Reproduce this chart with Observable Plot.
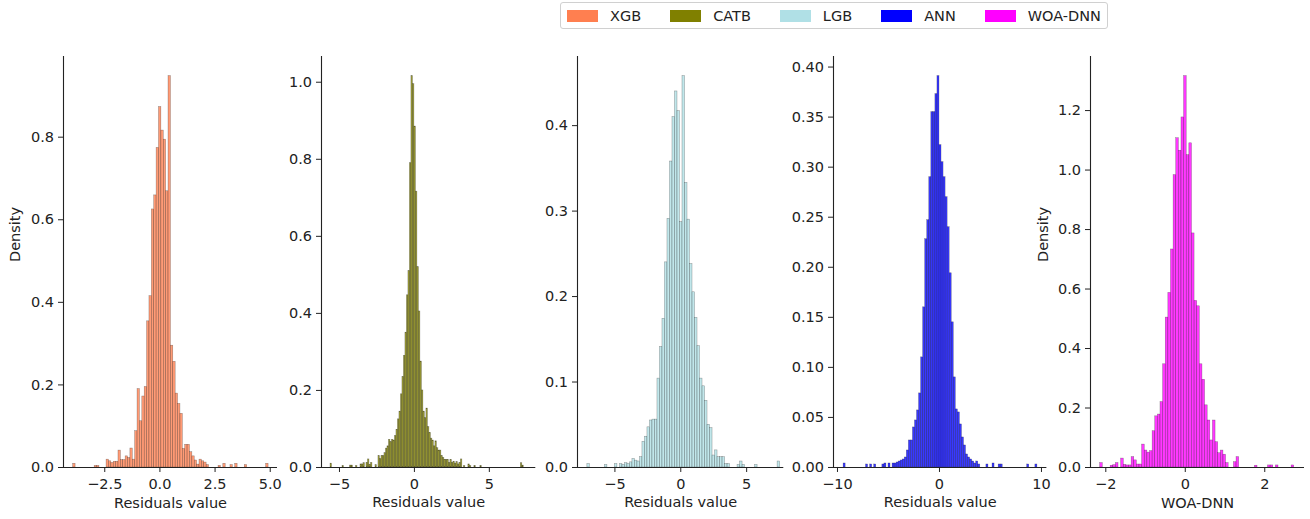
<!DOCTYPE html>
<html>
<head>
<meta charset="utf-8">
<script src="https://cdn.jsdelivr.net/npm/d3@7"></script>
<script src="https://cdn.jsdelivr.net/npm/@observablehq/plot@0.6"></script>
<style>
  body { margin: 0; background: #fff; font-family: "DejaVu Sans", sans-serif; }
  #chart { position: relative; width: 1310px; height: 519px; overflow: hidden; background: #fff; }
  #chart svg { position: absolute; top: 0; }
  #legend {
    position: absolute; left: 560px; top: 2px; height: 27px; box-sizing: border-box;
    display: flex; align-items: center; padding: 0 6px;
    border: 1px solid #d0d0d0; border-radius: 3px; background: #fff;
    font-family: "DejaVu Sans", sans-serif; font-size: 14.5px; color: #222; z-index: 2;
  }
  #legend .item { display: flex; align-items: center; margin-right: 29px; }
  #legend .item:last-child { margin-right: 0; }
  #legend .swatch { width: 31px; height: 12px; margin-right: 12px; }
</style>
</head>
<body>
<div id="chart"><div id="legend"></div></div>
<script>
// Model names and colours
const models = ["XGB", "CATB", "LGB", "ANN", "WOA-DNN"];
const colors = ["coral", "olive", "powderblue", "blue", "magenta"];

// Residual histograms: first bin edge, bin width, density per bin
const xgbStart = -3.93, xgbWidth = 0.108;
const xgbDensity = [
  0.009, 0, 0, 0, 0, 0, 0, 0, 0, 0.004,
  0.004, 0, 0, 0, 0.019, 0.015, 0.011, 0.014, 0.014, 0.041,
  0.018, 0.018, 0.027, 0.023, 0.046, 0.019, 0.088, 0.19, 0.112, 0.172,
  0.195, 0.354, 0.415, 0.625, 0.659, 0.774, 0.873, 0.816, 0.794, 0.669,
  0.948, 0.295, 0.256, 0.179, 0.154, 0.13, 0.045, 0.055, 0.055, 0.037,
  0.027, 0.017, 0.007, 0.019, 0.015, 0.012, 0.006, 0, 0, 0,
  0, 0.004, 0, 0.009, 0, 0, 0.006, 0, 0.009, 0,
  0, 0, 0.006, 0, 0, 0, 0, 0, 0, 0,
  0, 0.009
];

const catbStart = -5.6, catbWidth = 0.1;
const catbDensity = [
  0.01, 0, 0, 0, 0, 0, 0, 0, 0.004, 0,
  0, 0, 0, 0.005, 0.005, 0, 0, 0.004, 0, 0,
  0.008, 0.008, 0.011, 0, 0.012, 0.021, 0.007, 0.012, 0, 0,
  0.006, 0, 0.03, 0.022, 0.03, 0.03, 0.037, 0.049, 0.055, 0.072,
  0.066, 0.072, 0.07, 0.082, 0.098, 0.125, 0.145, 0.19, 0.235, 0.29,
  0.35, 0.447, 0.51, 0.79, 1.016, 0.995, 0.885, 0.716, 0.52, 0.405,
  0.275, 0.2, 0.145, 0.128, 0.153, 0.105, 0.09, 0.075, 0.07, 0.055,
  0.068, 0.05, 0.044, 0.044, 0.03, 0.025, 0.02, 0.02, 0.02, 0.012,
  0.02, 0.012, 0.015, 0.01, 0.014, 0.008, 0.012, 0.021, 0, 0.004,
  0, 0, 0.008, 0.004, 0, 0, 0.004, 0, 0, 0,
  0.004, 0, 0, 0, 0, 0, 0, 0, 0, 0,
  0, 0, 0, 0, 0, 0, 0, 0, 0, 0,
  0, 0, 0, 0, 0, 0, 0, 0.011, 0.005
];

const lgbStart = -7.47, lgbWidth = 0.19;
const lgbDensity = [
  0, 0, 0.004, 0, 0, 0, 0, 0, 0, 0.003,
  0, 0, 0, 0.004, 0, 0.004, 0.003, 0.005, 0.004, 0.006,
  0.01, 0.008, 0.007, 0.012, 0.03, 0.036, 0.047, 0.055, 0.056, 0.056,
  0.104, 0.141, 0.174, 0.24, 0.291, 0.358, 0.41, 0.44, 0.417, 0.287,
  0.458, 0.333, 0.29, 0.238, 0.205, 0.175, 0.142, 0.104, 0.095, 0.078,
  0.05, 0.046, 0.014, 0.02, 0.012, 0.012, 0.012, 0.004, 0.004, 0,
  0, 0, 0.003, 0.007, 0.003, 0, 0, 0, 0, 0.003,
  0, 0, 0, 0, 0, 0, 0, 0, 0.007
];

const annStart = -9.6, annWidth = 0.2;
const annDensity = [
  0, 0.004, 0, 0, 0, 0, 0, 0, 0, 0,
  0, 0, 0.003, 0, 0.003, 0, 0.003, 0, 0, 0,
  0.003, 0.004, 0, 0.004, 0, 0.004, 0.004, 0.005, 0.006, 0.007,
  0.008, 0.01, 0.017, 0.027, 0.027, 0.04, 0.047, 0.057, 0.074, 0.11,
  0.16, 0.228, 0.247, 0.29, 0.355, 0.355, 0.373, 0.391, 0.322, 0.305,
  0.29, 0.27, 0.24, 0.194, 0.145, 0.09, 0.058, 0.055, 0.043, 0.03,
  0.022, 0.013, 0.01, 0.008, 0.006, 0.004, 0.006, 0.003, 0, 0,
  0, 0.003, 0, 0, 0.004, 0, 0, 0.003, 0.003, 0,
  0, 0, 0, 0, 0, 0, 0, 0, 0, 0,
  0, 0.003, 0, 0, 0, 0.003
];

const woaStart = -2.142, woaWidth = 0.066;
const woaDensity = [
  0.015, 0, 0, 0, 0.006, 0.008, 0.015, 0, 0.03, 0.009,
  0.007, 0.007, 0.035, 0.024, 0.01, 0.01, 0.077, 0.057, 0.05, 0.055,
  0.122, 0.172, 0.178, 0.22, 0.347, 0.504, 0.587, 0.733, 0.983, 1.107,
  1.065, 1.177, 1.316, 1.05, 1.09, 0.787, 0.56, 0.542, 0.347, 0.295,
  0.209, 0.158, 0.091, 0.158, 0.085, 0.048, 0.057, 0.043, 0.015, 0,
  0, 0.018, 0.035, 0, 0, 0, 0, 0, 0, 0.006,
  0, 0, 0, 0, 0.007, 0.007, 0, 0.007, 0, 0,
  0, 0, 0, 0.007
];

// Tick values and axis titles
const xTicks = [[-2.5, 0, 2.5, 5], [-5, 0, 5], [-5, 0, 5], [-10, 0, 10], [-2, 0, 2]];
const yTicks = [
  [0, 0.2, 0.4, 0.6, 0.8],
  [0, 0.2, 0.4, 0.6, 0.8, 1.0],
  [0, 0.1, 0.2, 0.3, 0.4],
  [0, 0.05, 0.1, 0.15, 0.2, 0.25, 0.3, 0.35, 0.4],
  [0, 0.2, 0.4, 0.6, 0.8, 1.0, 1.2]
];
const xTitles = ["Residuals value", "Residuals value", "Residuals value", "Residuals value", "WOA-DNN"];
const yTitles = ["Density", null, null, null, "Density"];

const minus = (s) => s.replace("-", "\u2212");
const fmt = (digits) => (d) => minus(d.toFixed(digits));

// Per-panel layout: frame left/right in page pixels, x limits, tick formats
const panels = [
  {start: xgbStart, width: xgbWidth, density: xgbDensity, left: 63, right: 277, xDomain: [-4.37, 5.33], xFmt: fmt(1), yFmt: fmt(1), yTitleDx: -48},
  {start: catbStart, width: catbWidth, density: catbDensity, left: 320.7, right: 535, xDomain: [-6.2, 8.1], xFmt: fmt(0), yFmt: fmt(1)},
  {start: lgbStart, width: lgbWidth, density: lgbDensity, left: 576.7, right: 783, xDomain: [-7.84, 7.82], xFmt: fmt(0), yFmt: fmt(1)},
  {start: annStart, width: annWidth, density: annDensity, left: 833.3, right: 1046.7, xDomain: [-10.39, 10.53], xFmt: fmt(0), yFmt: fmt(2)},
  {start: woaStart, width: woaWidth, density: woaDensity, left: 1090, right: 1304, xDomain: [-2.385, 3.0], xFmt: fmt(0), yFmt: fmt(1), yTitleDx: -47}
];

const H = 519, MT = 56, MB = 52, ML = 60, MR = 10;
const ink = "#222";
const chart = document.getElementById("chart");

panels.forEach((p, k) => {
  const rows = p.density
    .map((d, i) => ({x1: p.start + i * p.width, x2: p.start + (i + 1) * p.width, d}))
    .filter((r) => r.d > 0);
  const yMax = d3.max(p.density) * 1.05;
  const W = p.right - p.left + ML + MR;
  const svg = Plot.plot({
    width: W,
    height: H,
    marginLeft: ML, marginRight: MR, marginTop: MT, marginBottom: MB,
    x: {domain: p.xDomain},
    y: {domain: [0, yMax]},
    style: {background: "transparent", overflow: "visible", fontFamily: "DejaVu Sans, sans-serif", fontSize: "14.5px", color: ink},
    marks: [
      Plot.rectY(rows, {
        x1: "x1", x2: "x2", y1: 0, y2: "d",
        fill: colors[k], fillOpacity: 0.78,
        stroke: "#000", strokeOpacity: 0.4, strokeWidth: 0.5
      }),
      Plot.ruleX([p.xDomain[0]], {stroke: ink, strokeWidth: 1.1}),
      Plot.ruleY([0], {stroke: ink, strokeWidth: 1.1}),
      Plot.axisX(xTicks[k], {tickFormat: p.xFmt, tickSize: 5, tickPadding: 6, label: null, stroke: ink}),
      Plot.axisY(yTicks[k], {tickFormat: p.yFmt, tickSize: 5, tickPadding: 4.5, label: null, stroke: ink}),
      Plot.text([xTitles[k]], {frameAnchor: "bottom", dy: 40, fontSize: 14.5, fill: ink}),
      yTitles[k] ? Plot.text([yTitles[k]], {frameAnchor: "left", rotate: -90, dx: p.yTitleDx, fontSize: 14.5, fill: ink}) : null
    ]
  });
  svg.style.left = (p.left - ML) + "px";
  chart.appendChild(svg);
});

// Legend row above the panels
const legend = d3.select("#legend");
models.forEach((m, k) => {
  const item = legend.append("div").attr("class", "item");
  item.append("div").attr("class", "swatch").style("background", colors[k]);
  item.append("span").text(m);
});
</script>
</body>
</html>
